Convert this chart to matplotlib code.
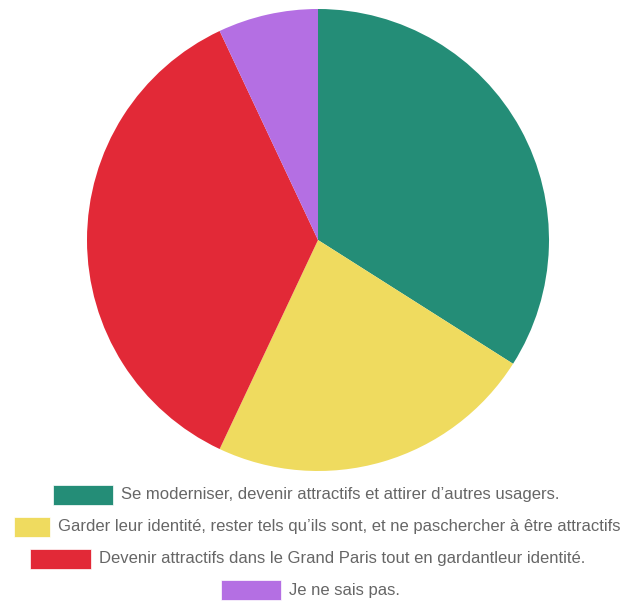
import matplotlib.pyplot as plt
from matplotlib.patches import Rectangle

labels = [
    "Se moderniser, devenir attractifs et attirer d\u2019autres usagers.",
    "Garder leur identit\u00e9, rester tels qu\u2019ils sont, et ne paschercher \u00e0 \u00eatre attractifs.",
    "Devenir attractifs dans le Grand Paris tout en gardantleur identit\u00e9.",
    "Je ne sais pas.",
]
values = [34, 23, 36, 7]
colors = ["#248d77", "#efdb5f", "#e22937", "#b46fe3"]

W, H = 622, 603
fig = plt.figure(figsize=(W / 100, H / 100), dpi=100)
ax = fig.add_axes([0, 0, 1, 1])

# pie, clockwise from the top
ax.pie(values, colors=colors, startangle=90, counterclock=False,
       center=(318, H - 240), radius=231, frame=True,
       wedgeprops=dict(linewidth=0))
ax.set_xlim(0, W)
ax.set_ylim(0, H)
ax.set_aspect("equal")
ax.axis("off")

# legend rows (centred, the long one runs off the canvas)
box_x = [53, 14, 30, 221]
box_w = [60, 36, 61, 60]
row_y = [495, 527, 559, 590]
for lab, col, bx, bw, ry in zip(labels, colors, box_x, box_w, row_y):
    ax.add_patch(Rectangle((bx, H - ry - 10), bw, 20, facecolor=col,
                           edgecolor="white", linewidth=0.5, clip_on=False))
    ax.text(bx + bw + 8, H - ry, lab, fontsize=12, color="#666666",
            family="Liberation Sans", va="center", ha="left")

fig.savefig("out.png", dpi=100)
